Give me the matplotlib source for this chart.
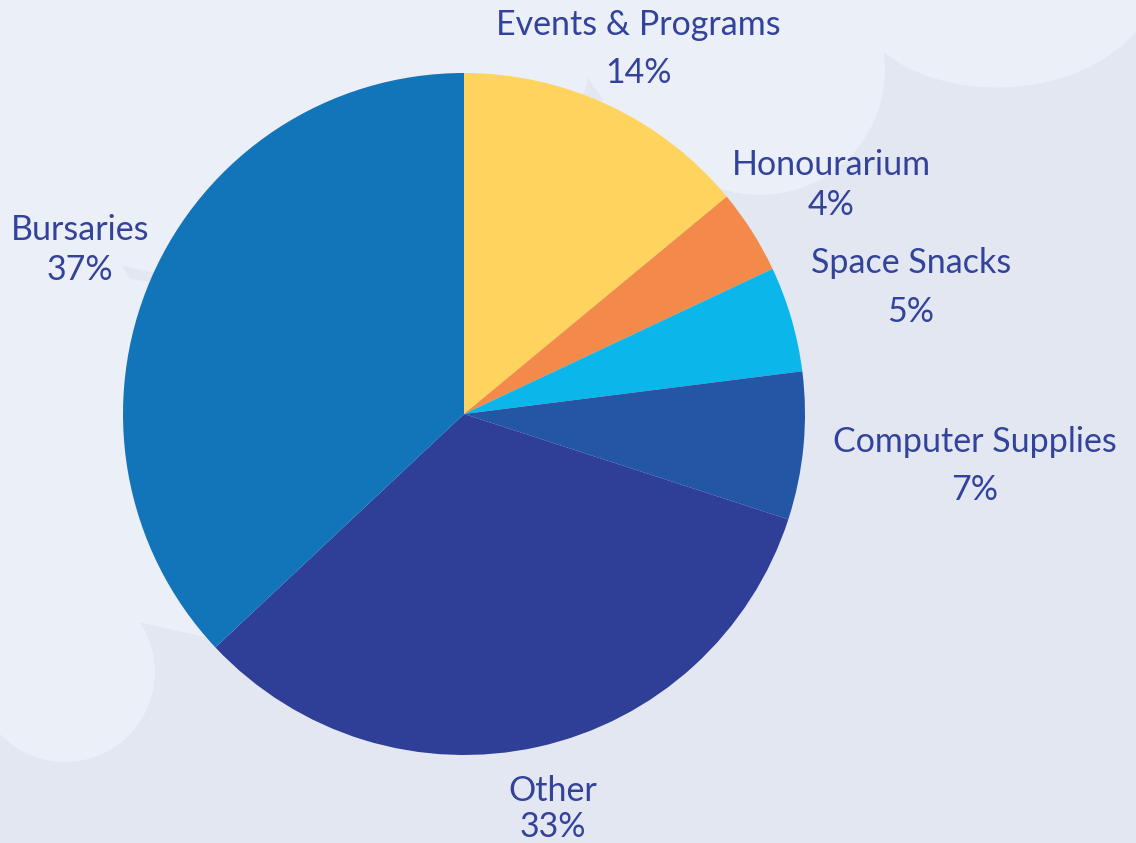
import numpy as np
import matplotlib.pyplot as plt
from matplotlib.path import Path
from matplotlib.patches import PathPatch, Circle, Polygon

# Budget split
categories = ["Events & Programs", "Honourarium", "Space Snacks",
              "Computer Supplies", "Other", "Bursaries"]
shares = [14, 4, 5, 7, 33, 37]
colors = ["#FFD45E", "#F48A4A", "#0AB6EA", "#2357A5", "#2F3E97", "#1274B9"]

# Label anchors in image pixels (x centre, baseline of name, baseline of %)
label_pos = [(638, 35, 83), (831, 175, 215), (911, 273, 322),
             (975, 452, 500), (553, 801, 837), (80, 240, 280)]

W, H = 1136, 843
BG_DARK = "#E3E7F1"
BG_LIGHT = "#EBEFF7"
TEXT = "#33429A"

plt.rcParams["font.family"] = ["Lato", "DejaVu Sans"]


def px(x, y):
    # image pixel coords (y down) -> axes data coords (y up)
    return (x, H - y)


fig = plt.figure(figsize=(W / 100, H / 100), dpi=100, facecolor=BG_DARK)
ax = fig.add_axes([0, 0, 1, 1])
ax.set_facecolor(BG_DARK)

# soft cloud shapes behind the pie
arc_t = np.radians(np.linspace(-8, 120, 40))
arc = [px(760 + 125 * np.cos(t), 70 + 125 * np.sin(t)) for t in arc_t]

verts = [px(0, 0), px(W, 0), px(W, 32),
         px(1070, 105), px(940, 100), px(884, 52)]
codes = [Path.MOVETO, Path.LINETO, Path.LINETO,
         Path.CURVE4, Path.CURVE4, Path.CURVE4]
verts += arc
codes += [Path.LINETO] * len(arc)
verts += [px(464, 414), px(205, 637), px(142, 623), px(0, 623), px(0, 0)]
codes += [Path.LINETO] * 4 + [Path.CLOSEPOLY]
ax.add_patch(PathPatch(Path(verts, codes), facecolor=BG_LIGHT,
                       edgecolor="none", zorder=0))
ax.add_patch(Circle(px(65, 672), 90, facecolor=BG_LIGHT,
                    edgecolor="none", zorder=0))
# little cusps where the clouds meet
ax.add_patch(Polygon([px(122, 266), px(160, 274), px(160, 283), px(130, 279)],
                     facecolor=BG_DARK, edgecolor="none", zorder=0.5))
ax.add_patch(Polygon([px(588, 78), px(582, 100), px(603, 100)],
                     facecolor=BG_DARK, edgecolor="none", zorder=0.5))

ax.pie(shares, colors=colors, startangle=90, counterclock=False,
       center=px(464, 414), radius=341,
       wedgeprops=dict(linewidth=0, edgecolor="none"))

for name, val, (x, yn, yp) in zip(categories, shares, label_pos):
    ax.text(x, H - yn, name, ha="center", va="baseline",
            fontsize=24.5, color=TEXT)
    ax.text(x, H - yp, f"{val}%", ha="center", va="baseline",
            fontsize=24.5, color=TEXT)

ax.set_xlim(0, W)
ax.set_ylim(0, H)
ax.set_aspect("auto")
ax.axis("off")

fig.savefig("out.png", dpi=100, facecolor=BG_DARK)
